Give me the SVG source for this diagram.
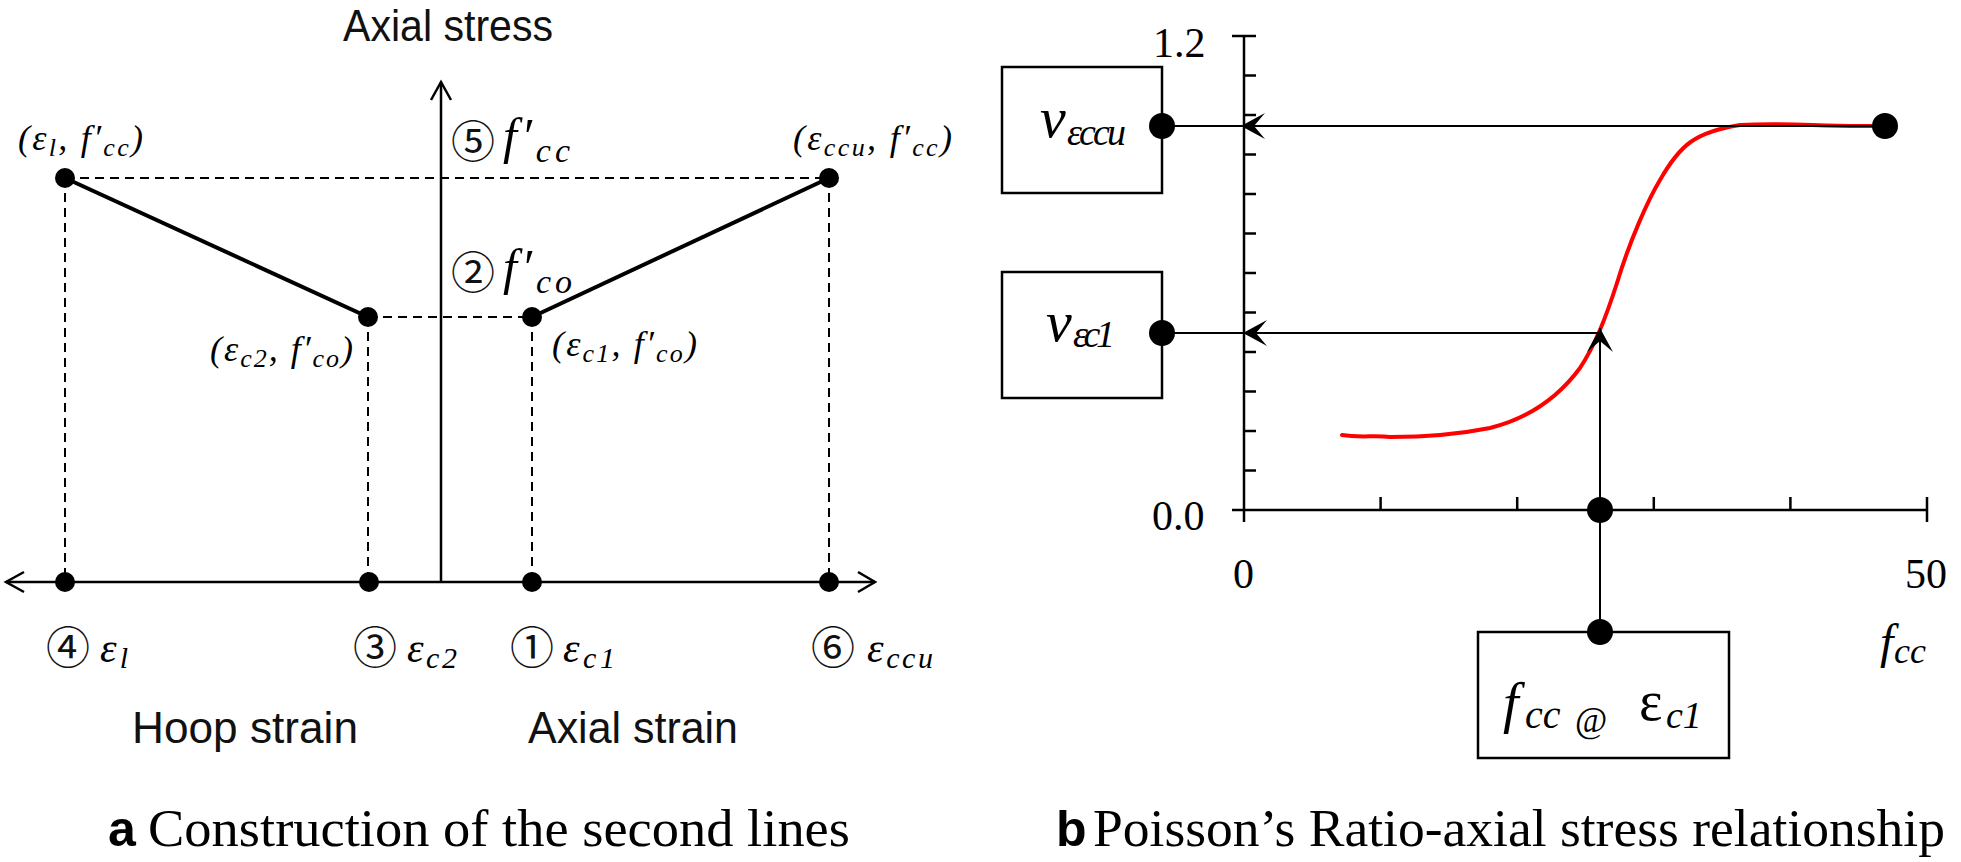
<svg xmlns="http://www.w3.org/2000/svg" width="1961" height="862" viewBox="0 0 1961 862">
<style>
.ax{stroke:#000;stroke-width:2.5;fill:none}
.dash{stroke:#000;stroke-width:2;stroke-dasharray:9 6;fill:none}
.seg{stroke:#000;stroke-width:4;fill:none}
.dot{fill:#000}
.conn{stroke:#000;stroke-width:2;fill:none}
.box{fill:#fff;stroke:#000;stroke-width:2.5}
.red{stroke:#ff0000;stroke-width:4;fill:none;stroke-linecap:round}
.sans{font-family:"Liberation Sans","Noto Sans",sans-serif;font-size:44px;fill:#111}
.circ{font-family:"Noto Sans CJK KR","DejaVu Sans",sans-serif;font-size:44px;text-anchor:middle;fill:#111}
.m{font-family:"Liberation Serif","DejaVu Serif",serif;font-style:italic;fill:#000}
.t{font-family:"Liberation Serif","DejaVu Serif",serif;font-style:normal;fill:#000}
.cap{font-family:"Liberation Serif",serif;font-size:53px;fill:#000}
.bold{font-family:"Liberation Sans",sans-serif;font-weight:bold;font-size:50px;fill:#000}
</style>
<defs>
<marker id="arr" viewBox="0 0 24 26" markerWidth="24" markerHeight="26" refX="24" refY="13" orient="auto" markerUnits="userSpaceOnUse">
<path d="M24,13 L0,0 L11,13 L0,26 Z" fill="#000"/>
</marker>
</defs>
<rect width="1961" height="862" fill="#fff"/>

<!-- ================= Panel a ================= -->
<g id="panel-a-axes">
<line class="ax" x1="441" y1="82" x2="441" y2="582"/>
<line class="ax" x1="6" y1="582" x2="875" y2="582"/>
<polyline class="ax" points="431,100 441,82 451,100"/>
<polyline class="ax" points="24,572 6,582 24,592"/>
<polyline class="ax" points="858,572 875,582 858,592"/>
<text class="sans" x="343" y="41" textLength="210" lengthAdjust="spacingAndGlyphs">Axial stress</text>
<text class="sans" x="132" y="743" textLength="226" lengthAdjust="spacingAndGlyphs">Hoop strain</text>
<text class="sans" x="528" y="743" textLength="210" lengthAdjust="spacingAndGlyphs">Axial strain</text>
</g>

<g id="panel-a-connectors">
<line class="dash" x1="65" y1="178" x2="829" y2="178"/>
<line class="dash" x1="368" y1="317" x2="532" y2="317"/>
<line class="dash" x1="65" y1="178" x2="65" y2="582"/>
<line class="dash" x1="368" y1="317" x2="368" y2="582"/>
<line class="dash" x1="532" y1="317" x2="532" y2="582"/>
<line class="dash" x1="829" y1="178" x2="829" y2="582"/>
<line class="seg" x1="65" y1="178" x2="368" y2="317"/>
<line class="seg" x1="532" y1="317" x2="829" y2="178"/>
</g>

<g id="pt-el-fcc">
<circle class="dot" cx="65" cy="178" r="10"/>
<text class="m" x="18" y="150" font-size="36" textLength="125">(ε<tspan font-size="26" dy="6">l</tspan><tspan dy="-6">, f′</tspan><tspan font-size="26" dy="6">cc</tspan><tspan dy="-6">)</tspan></text>
</g>
<g id="pt-eccu-fcc">
<circle class="dot" cx="829" cy="178" r="10"/>
<text class="m" x="793" y="150" font-size="36" textLength="159">(ε<tspan font-size="26" dy="6">ccu</tspan><tspan dy="-6">, f′</tspan><tspan font-size="26" dy="6">cc</tspan><tspan dy="-6">)</tspan></text>
</g>
<g id="pt-ec2-fco">
<circle class="dot" cx="368" cy="317" r="10"/>
<text class="m" x="210" y="361" font-size="36" textLength="143">(ε<tspan font-size="26" dy="6">c2</tspan><tspan dy="-6">, f′</tspan><tspan font-size="26" dy="6">co</tspan><tspan dy="-6">)</tspan></text>
</g>
<g id="pt-ec1-fco">
<circle class="dot" cx="532" cy="317" r="10"/>
<text class="m" x="552" y="356" font-size="36" textLength="145">(ε<tspan font-size="26" dy="6">c1</tspan><tspan dy="-6">, f′</tspan><tspan font-size="26" dy="6">co</tspan><tspan dy="-6">)</tspan></text>
</g>
<g id="lbl-5-fcc">
<text class="circ" x="473" y="158">⑤</text>
<text class="m" x="503" y="153" font-size="50" textLength="67">f′<tspan font-size="34" dy="9">cc</tspan></text>
</g>
<g id="lbl-2-fco">
<text class="circ" x="473" y="289">②</text>
<text class="m" x="503" y="284" font-size="50" textLength="69">f′<tspan font-size="34" dy="9">co</tspan></text>
</g>
<g id="pt-4-el">
<circle class="dot" cx="65" cy="582" r="10"/>
<text class="circ" x="68" y="664">④</text>
<text class="m" x="100" y="662" font-size="42" textLength="28">ε<tspan font-size="30" dy="6">l</tspan></text>
</g>
<g id="pt-3-ec2">
<circle class="dot" cx="369" cy="582" r="10"/>
<text class="circ" x="375" y="664">③</text>
<text class="m" x="407" y="662" font-size="42" textLength="50">ε<tspan font-size="30" dy="6">c2</tspan></text>
</g>
<g id="pt-1-ec1">
<circle class="dot" cx="532" cy="582" r="10"/>
<text class="circ" x="532" y="664">①</text>
<text class="m" x="563" y="662" font-size="42" textLength="52">ε<tspan font-size="30" dy="6">c1</tspan></text>
</g>
<g id="pt-6-eccu">
<circle class="dot" cx="829" cy="582" r="10"/>
<text class="circ" x="833" y="664">⑥</text>
<text class="m" x="867" y="662" font-size="42" textLength="66">ε<tspan font-size="30" dy="6">ccu</tspan></text>
</g>

<!-- ================= Panel b ================= -->
<g id="panel-b-axes">
<line class="ax" stroke-width="3" x1="1244" y1="36" x2="1244" y2="522"/>
<line class="ax" stroke-width="3" x1="1232" y1="510" x2="1927" y2="510"/>
<line class="ax" stroke-width="3" x1="1232" y1="36" x2="1256" y2="36"/>
<path class="ax" stroke-width="3" d="M1244,75.5 h12 M1244,115 h12 M1244,154.5 h12 M1244,194 h12 M1244,233.5 h12 M1244,273 h12 M1244,312.5 h12 M1244,352 h12 M1244,391.5 h12 M1244,431 h12 M1244,470.5 h12"/>
<path class="ax" stroke-width="3" d="M1380.6,510 v-13 M1517.2,510 v-13 M1653.8,510 v-13 M1790.4,510 v-13 M1927,497 v25"/>
<text class="t" x="1153" y="57" font-size="42">1.2</text>
<text class="t" x="1152" y="530" font-size="42">0.0</text>
<text class="t" x="1233" y="588" font-size="42">0</text>
<text class="t" x="1905" y="588" font-size="42">50</text>
<text class="m" x="1880" y="658" font-size="48">f<tspan x="1894" y="663" font-size="36">cc</tspan></text>
</g>

<path id="curve" class="red" d="M1342,435 C1360,438 1375,435 1390,437 C1420,437 1460,434 1490,428 C1530,418 1560,395 1580,368 C1595,345 1605,320 1617,283 C1630,240 1648,200 1660,180 C1680,145 1695,132 1740,125 C1790,122 1820,127 1872,126"/>

<g id="connectors">
<path class="conn" d="M1885,126 H1241" marker-end="url(#arr)"/>
<path class="conn" d="M1241,126 H1162"/>
<path class="conn" d="M1600,333 H1243" marker-end="url(#arr)"/>
<path class="conn" d="M1243,333 H1162"/>
<path class="conn" d="M1600,632 V328" marker-end="url(#arr)"/>
</g>

<g id="box-v-eccu">
<rect class="box" x="1002" y="67" width="160" height="126"/>
<text class="m" x="1040" y="137" font-size="58">v</text>
<text class="m" x="1067" y="145" font-size="38" textLength="59">εccu</text>
<circle class="dot" cx="1162" cy="126" r="13"/>
</g>
<g id="box-v-ec1">
<rect class="box" x="1002" y="272" width="160" height="126"/>
<text class="m" x="1046" y="341" font-size="58">v</text>
<text class="m" x="1073" y="347" font-size="38" textLength="42">εc1</text>
<circle class="dot" cx="1162" cy="333" r="13"/>
</g>
<g id="box-fcc-ec1">
<rect class="box" x="1478" y="632" width="251" height="126"/>
<text class="m" x="1503" y="722" font-size="56">f<tspan x="1525" y="728" font-size="40">cc</tspan><tspan class="t" x="1575" y="732" font-size="35">@</tspan><tspan class="t" x="1639" y="720" font-size="56">ε</tspan><tspan x="1666" y="728" font-size="38">c1</tspan></text>
<circle class="dot" cx="1600" cy="632" r="13"/>
</g>
<g id="pt-origin-fcc">
<circle class="dot" cx="1600" cy="510" r="13"/>
</g>
<g id="pt-end">
<circle class="dot" cx="1885" cy="126" r="13"/>
</g>

<!-- ================= Captions ================= -->
<g id="captions">
<text class="bold" x="108" y="846">a</text>
<text class="cap" x="148" y="846" textLength="702" lengthAdjust="spacingAndGlyphs">Construction of the second lines</text>
<text class="bold" x="1056" y="846">b</text>
<text class="cap" x="1093" y="846" textLength="852" lengthAdjust="spacingAndGlyphs">Poisson’s Ratio-axial stress relationship</text>
</g>
</svg>
